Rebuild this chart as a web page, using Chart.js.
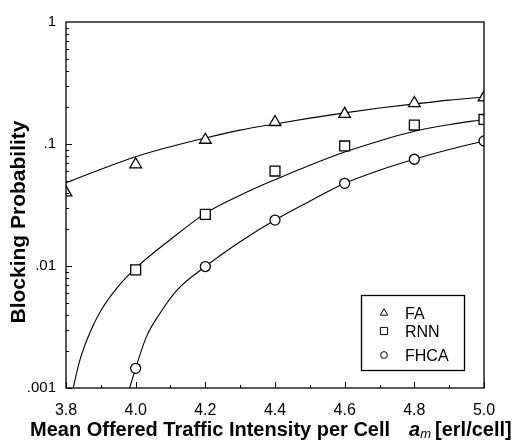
<!DOCTYPE html>
<html>
<head>
<meta charset="utf-8">
<script src="https://cdn.jsdelivr.net/npm/chart.js@4.4.0/dist/chart.umd.min.js"></script>
<style>
body{margin:0;background:#fff}
#wrap{width:524px;height:442px}
</style>
</head>
<body>
<div id="wrap"><canvas id="chart" width="524" height="442"></canvas></div>
<script>
const faX = [3.8, 4.0, 4.2, 4.4, 4.6, 4.8, 5.0]
const faPts = [0.040, 0.068, 0.108, 0.151, 0.176, 0.216, 0.240]
const rnnX = [4.0, 4.2, 4.4, 4.6, 4.8, 5.0]
const rnnPts = [0.0093, 0.0265, 0.060, 0.0964, 0.143, 0.159]
const fhcaX = [4.0, 4.2, 4.4, 4.6, 4.8, 5.0]
const fhcaPts = [0.00145, 0.0099, 0.0238, 0.0476, 0.075, 0.106]

// fitted curves
const faFitX = [3.8, 3.9, 4.0, 4.1, 4.2, 4.3, 4.4, 4.5, 4.6, 4.7, 4.8, 4.9, 5.0]
const faFit = [0.048, 0.062, 0.0787, 0.095, 0.112, 0.130, 0.146, 0.163, 0.180, 0.197, 0.213, 0.229, 0.243]
const rnnFitX = [3.815, 3.84, 3.87, 3.9, 3.95, 4.0, 4.1, 4.2, 4.3, 4.4, 4.5, 4.6, 4.7, 4.8, 4.9, 5.0]
const rnnFit = [0.00085, 0.0017, 0.0029, 0.0043, 0.0068, 0.0096, 0.0165, 0.027, 0.038, 0.051, 0.067, 0.086, 0.106, 0.127, 0.144, 0.159]
const fhcaFitX = [3.975, 4.0, 4.03, 4.07, 4.12, 4.2, 4.3, 4.4, 4.5, 4.6, 4.7, 4.8, 4.9, 5.0]
const fhcaFit = [0.00085, 0.00145, 0.0026, 0.0041, 0.0064, 0.0099, 0.0158, 0.0238, 0.034, 0.0476, 0.061, 0.075, 0.090, 0.106]

const seriesNames = ['FA', 'RNN', 'FHCA']
const xTicks = [3.8, 4.0, 4.2, 4.4, 4.6, 4.8, 5.0]
const xTickLabels = ['3.8', '4.0', '4.2', '4.4', '4.6', '4.8', '5.0']
const yTicks = [0.001, 0.01, 0.1, 1]
const yTickLabels = ['.001', '.01', '.1', '1']
const yTitle = 'Blocking Probability'
const xTitle = 'Mean Offered Traffic Intensity per Cell'

const FONT = '"Liberation Sans", Arial, sans-serif'
Chart.defaults.font.family = FONT
Chart.defaults.color = '#000'

const pts = (xs, ys) => xs.map((x, i) => ({x: x, y: ys[i]}))

function curve(xs, ys) {
    return {data: pts(xs, ys), showLine: true, pointRadius: 0, borderColor: '#000', borderWidth: 1.1,
        tension: 0.4, cubicInterpolationMode: 'monotone', order: 2}
}
function marks(label, xs, ys, style, r) {
    return {label: label, data: pts(xs, ys), showLine: false, pointStyle: style, pointRadius: r,
        pointBackgroundColor: '#fff', pointBorderColor: '#000', pointBorderWidth: 1.3, order: 0}
}

function drawMarker(ctx, style, x, y, s) {
    ctx.beginPath()
    if (style == 'triangle') {
        ctx.moveTo(x, y - s); ctx.lineTo(x + s * 0.87, y + s * 0.5); ctx.lineTo(x - s * 0.87, y + s * 0.5); ctx.closePath()
    } else if (style == 'rect') {
        ctx.rect(x - s, y - s, 2 * s, 2 * s)
    } else {
        ctx.arc(x, y, s, 0, Math.PI * 2)
    }
    ctx.stroke()
}

const decor = {
    id: 'decor',
    afterDraw(c) {
        const {ctx, chartArea: a, scales: {x, y}} = c
        ctx.save()
        ctx.strokeStyle = '#000'
        ctx.lineWidth = 1.3
        ctx.strokeRect(a.left, a.top, a.right - a.left, a.bottom - a.top)
        ctx.lineWidth = 1
        ctx.beginPath()
        for (let d = -3; d < 0; d++) {
            for (let m = 1; m < 10; m++) {
                const py = Math.round(y.getPixelForValue(m * Math.pow(10, d))) + 0.5
                ctx.moveTo(a.left, py); ctx.lineTo(a.left + (m == 1 ? 6 : 3), py)
            }
        }
        for (let v = 38; v <= 50; v++) {
            const px = Math.round(x.getPixelForValue(v / 10)) + 0.5
            ctx.moveTo(px, a.bottom); ctx.lineTo(px, a.bottom - (v % 2 == 0 ? 6 : 3))
        }
        ctx.stroke()

        // axis titles
        ctx.fillStyle = '#000'
        ctx.font = 'bold 21px ' + FONT
        ctx.save()
        ctx.translate(25, 222)
        ctx.rotate(-Math.PI / 2)
        ctx.textAlign = 'center'
        ctx.fillText(yTitle, 0, 0)
        ctx.restore()

        ctx.textAlign = 'left'
        ctx.font = 'bold 20px ' + FONT
        ctx.fillText(xTitle, 30, 436)
        let tx = 30 + ctx.measureText(xTitle).width + 19
        ctx.font = 'italic bold 20px ' + FONT
        ctx.fillText('a', tx, 436)
        tx += ctx.measureText('a').width
        ctx.font = 'italic 13px ' + FONT
        ctx.fillText('m', tx, 438)
        tx += ctx.measureText('m').width + 4
        ctx.font = 'bold 20px ' + FONT
        ctx.fillText('[erl/cell]', tx, 436)

        // legend box
        ctx.lineWidth = 1.3
        ctx.strokeRect(361.5, 295.5, 103, 75)
        ctx.lineWidth = 1
        ctx.font = '16px ' + FONT
        const styles = ['triangle', 'rect', 'circle']
        const rows = [313, 331, 355]
        const sizes = [4.3, 3.6, 3.4]
        styles.forEach((st, i) => {
            drawMarker(ctx, st, 384, rows[i], sizes[i])
            ctx.fillText(seriesNames[i], 405, rows[i] + 5.5)
        })
        ctx.restore()
    }
}

const chart = new Chart(document.querySelector('#chart'), {
    type: 'scatter',
    data: {
        datasets: [
            curve(faFitX, faFit),
            curve(rnnFitX, rnnFit),
            curve(fhcaFitX, fhcaFit),
            marks(seriesNames[0], faX, faPts, 'triangle', 6.7),
            marks(seriesNames[1], rnnX, rnnPts, 'rect', 7),
            marks(seriesNames[2], fhcaX, fhcaPts, 'circle', 5)
        ]
    },
    options: {
        responsive: false,
        animation: false,
        layout: {padding: {left: 0, top: 22, right: 40, bottom: 0}},
        plugins: {legend: {display: false}, tooltip: {enabled: false}},
        scales: {
            x: {
                type: 'linear', min: 3.8, max: 5.0,
                grid: {display: false, drawTicks: false},
                border: {display: false},
                afterBuildTicks: s => { s.ticks = xTicks.map(v => ({value: v})) },
                afterFit: s => { s.height = 54 },
                ticks: {font: {size: 16}, padding: 13, maxRotation: 0,
                    callback: (v, i) => xTickLabels[i]}
            },
            y: {
                type: 'logarithmic', min: 0.001, max: 1,
                grid: {display: false, drawTicks: false},
                border: {display: false},
                afterBuildTicks: s => { s.ticks = yTicks.map(v => ({value: v})) },
                afterFit: s => { s.width = 66 },
                ticks: {font: {size: 15}, padding: 10,
                    callback: (v, i) => yTickLabels[i]}
            }
        }
    },
    plugins: [decor]
})
</script>
</body>
</html>
